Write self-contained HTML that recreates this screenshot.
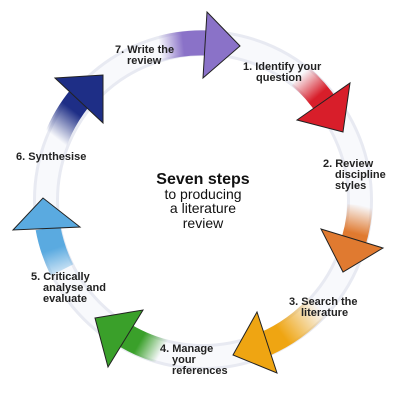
<!DOCTYPE html>
<html><head><style>body{margin:0;background:#fff}svg{display:block}</style></head><body>
<svg width="400" height="400" viewBox="0 0 400 400" xmlns="http://www.w3.org/2000/svg" font-family="Liberation Sans, sans-serif">
<defs>
<linearGradient id="gp" gradientUnits="userSpaceOnUse" x1="159" y1="45" x2="203" y2="40"><stop offset="0" stop-color="#8a72c8" stop-opacity="0"/><stop offset="0.55" stop-color="#8a72c8"/></linearGradient>
<linearGradient id="gr" gradientUnits="userSpaceOnUse" x1="300" y1="75" x2="330" y2="110"><stop offset="0" stop-color="#d81e2a" stop-opacity="0"/><stop offset="0.6" stop-color="#d81e2a"/></linearGradient>
<linearGradient id="go" gradientUnits="userSpaceOnUse" x1="360" y1="205" x2="350" y2="245"><stop offset="0" stop-color="#e07a30" stop-opacity="0"/><stop offset="0.7" stop-color="#e07a30"/></linearGradient>
<linearGradient id="gy" gradientUnits="userSpaceOnUse" x1="318" y1="305" x2="265" y2="345"><stop offset="0" stop-color="#efa512" stop-opacity="0"/><stop offset="0.7" stop-color="#efa512"/></linearGradient>
<linearGradient id="gg" gradientUnits="userSpaceOnUse" x1="160" y1="355" x2="118" y2="331"><stop offset="0" stop-color="#3aa02a" stop-opacity="0"/><stop offset="0.5" stop-color="#3aa02a"/></linearGradient>
<linearGradient id="gb" gradientUnits="userSpaceOnUse" x1="62" y1="282" x2="44" y2="228"><stop offset="0" stop-color="#5aaae0" stop-opacity="0"/><stop offset="0.6" stop-color="#5aaae0"/></linearGradient>
<linearGradient id="gn" gradientUnits="userSpaceOnUse" x1="52" y1="135" x2="85" y2="92"><stop offset="0" stop-color="#1e2e86" stop-opacity="0"/><stop offset="0.6" stop-color="#1e2e86"/></linearGradient>
</defs>
<circle cx="203" cy="200" r="157" fill="none" stroke="#e8eaf2" stroke-width="26"/>
<circle cx="203" cy="200" r="157" fill="none" stroke="#f8f9fc" stroke-width="20"/>
<g fill="none" stroke-width="25">
<path d="M155,50 A157 157 0 0 1 206,43" stroke="url(#gp)"/>
<path d="M300,76 A157 157 0 0 1 328,108" stroke="url(#gr)"/>
<path d="M360,205 A157 157 0 0 1 350,252" stroke="url(#go)"/>
<path d="M318,306 A157 157 0 0 1 265,344" stroke="url(#gy)"/>
<path d="M165,352 A157 157 0 0 1 118,331" stroke="url(#gg)"/>
<path d="M62,270 A157 157 0 0 1 48,228" stroke="url(#gb)"/>
<path d="M52,150 A157 157 0 0 1 85,92" stroke="url(#gn)"/>
</g>
<g stroke="#222" stroke-width="1" stroke-linejoin="miter">
<polygon points="207,12 240,46 203,78" fill="#8a72c8"/>
<polygon points="297,120 350,83 343,132" fill="#d81e2a"/>
<polygon points="321,229 383,248 343,272" fill="#e07a30"/>
<polygon points="257,312 233,355 277,373" fill="#efa512"/>
<polygon points="95,318 143,310 108,367" fill="#3aa02a"/>
<polygon points="13,230 43,198 80,227" fill="#5aaae0"/>
<polygon points="55,78 103,75 103,123" fill="#1e2e86"/>
</g>
<g font-size="11" font-weight="bold" fill="#222">
<text x="115" y="53">7. Write the</text><text x="127" y="64">review</text>
<text x="243" y="70">1. Identify your</text><text x="256" y="81">question</text>
<text x="16" y="160">6. Synthesise</text>
<text x="323" y="167">2. Review</text><text x="335" y="178">discipline</text><text x="335" y="189">styles</text>
<text x="31" y="280">5. Critically</text><text x="43" y="291">analyse and</text><text x="43" y="302">evaluate</text>
<text x="289" y="305">3. Search the</text><text x="301" y="316">literature</text>
<text x="160" y="352">4. Manage</text><text x="172" y="363">your</text><text x="172" y="374">references</text>
</g>
<g text-anchor="middle" fill="#111">
<text x="203" y="184" font-size="16" font-weight="bold">Seven steps</text>
<text x="203" y="199" font-size="14">to producing</text>
<text x="203" y="213" font-size="14">a literature</text>
<text x="203" y="228" font-size="14">review</text>
</g>
</svg>
</body></html>
